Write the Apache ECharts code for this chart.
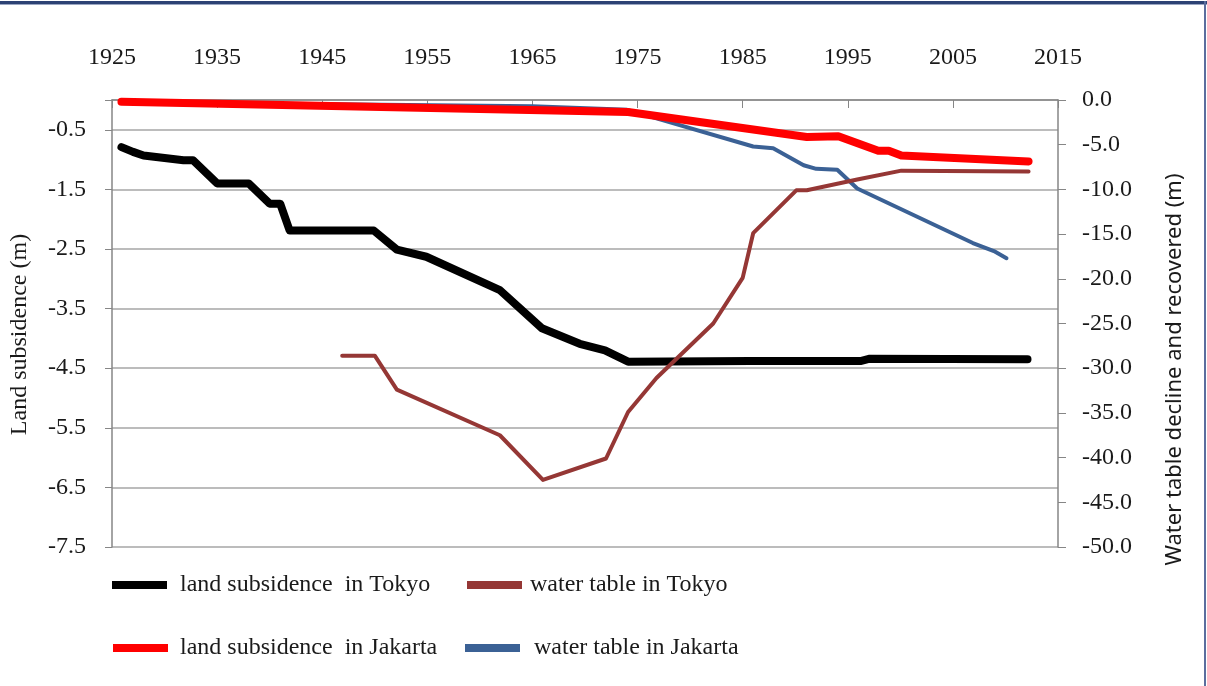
<!DOCTYPE html>
<html>
<head>
<meta charset="utf-8">
<script src="https://cdn.jsdelivr.net/npm/echarts@6/dist/echarts.min.js"></script>
<style>
html,body{margin:0;padding:0;background:#fff;}
#chart{width:1207px;height:686px;}
</style>
</head>
<body>
<div id="chart"></div>
<script>
// ---- data ----
var xTicks = [1925, 2015, 10];
var tokyoSubYears = [1925.9, 1927, 1928, 1931.8, 1932.7, 1935, 1938, 1940, 1941, 1941.9, 1949.9, 1952.1, 1954.9, 1961.9, 1965.9, 1969.5, 1971.9, 1974.1, 1985.7, 1996.2, 1997.1, 2012.1];
var tokyoSub      = [-0.79, -0.87, -0.93, -1.01, -1.01, -1.40, -1.40, -1.74, -1.74, -2.19, -2.19, -2.51, -2.63, -3.19, -3.83, -4.09, -4.20, -4.39, -4.38, -4.38, -4.34, -4.35];

var jakartaSubYears = [1925.9, 1974.1, 1991.1, 1994.1, 1997.9, 1998.9, 2000.1, 2012.2];
var jakartaSub      = [-0.03, -0.20, -0.62, -0.61, -0.85, -0.85, -0.93, -1.03];

var tokyoWaterYears = [1946.9, 1950, 1952.1, 1961.9, 1966, 1972, 1974.1, 1976.8, 1982.2, 1985, 1986, 1990.1, 1991.1, 1995.9, 2000.1, 2012.2];
var tokyoWater      = [-28.6, -28.6, -32.4, -37.5, -42.5, -40.1, -34.9, -31.1, -25.0, -19.9, -14.9, -10.1, -10.1, -8.9, -7.9, -8.0];

var jakartaWaterYears = [1927, 1965, 1974, 1976.8, 1986, 1987.9, 1990.8, 1992, 1994, 1995.9, 2006.9, 2008.9, 2010.1];
var jakartaWater      = [-0.25, -0.7, -1.1, -2.05, -5.2, -5.4, -7.3, -7.7, -7.8, -9.9, -16.0, -16.9, -17.7];

var names = ['land subsidence  in Tokyo', 'water table in Tokyo', 'land subsidence  in Jakarta', 'water table in Jakarta'];

function pairs(xs, ys) { return xs.map(function (x, i) { return [x, ys[i]]; }); }

var serif = '"Liberation Serif", "DejaVu Serif", serif';
var axisColor = '#868686';
var textColor = '#1a1a1a';

var chart = echarts.init(document.getElementById('chart'));
function legendItem(name, left, top, gap) {
  return {
    data: [name], left: left, top: top, orient: 'horizontal',
    icon: 'rect', itemWidth: 55, itemHeight: 8, selectedMode: false,
    textStyle: { fontFamily: serif, fontSize: 24, color: textColor, padding: [0, 0, 0, gap] }
  };
}
chart.setOption({
  animation: false,
  backgroundColor: '#fff',
  grid: { left: 112, right: 149, top: 100, bottom: 139, containLabel: false },
  legend: [
    legendItem(names[0], 107, 568, 8),
    legendItem(names[1], 462, 568, 3),
    legendItem(names[2], 108, 631, 7),
    legendItem(names[3], 460, 631, 9)
  ],
  xAxis: {
    type: 'value', position: 'top', min: xTicks[0], max: xTicks[1], interval: xTicks[2],
    axisLine: { show: true, lineStyle: { color: axisColor, width: 1.5 } },
    axisTick: { show: true, inside: true, length: 8, lineStyle: { color: axisColor } },
    axisLabel: { margin: 30, fontFamily: serif, fontSize: 24, color: textColor, formatter: function (v) { return String(v); } },
    splitLine: { show: false }
  },
  yAxis: [
    {
      type: 'value', position: 'left', min: -7.5, max: 0, interval: 1,
      name: 'Land subsidence (m)', nameLocation: 'middle', nameGap: 80, nameRotate: 90,
      nameTextStyle: { fontFamily: serif, fontSize: 24, color: textColor, padding: [0, 22, 0, 0] },
      axisLine: { show: true, lineStyle: { color: axisColor, width: 1.5 } },
      axisTick: { show: true, inside: false, length: 7, lineStyle: { color: axisColor } },
      axisLabel: { margin: 26, fontFamily: serif, fontSize: 24, color: textColor,
        formatter: function (v) { return Math.abs(v) < 1e-9 ? '' : v.toFixed(1); } },
      splitLine: { show: true, lineStyle: { color: '#a6a6a6', width: 1.5 } }
    },
    {
      type: 'value', position: 'right', min: -50, max: 0, interval: 5,
      name: 'Water table decline and recovered (m)', nameLocation: 'middle', nameGap: 106, nameRotate: 90,
      nameTextStyle: { fontFamily: '"Noto Sans", "DejaVu Sans", sans-serif', fontSize: 22, color: textColor, padding: [0, 92, 0, 0] },
      axisLine: { show: true, lineStyle: { color: axisColor, width: 1.5 } },
      axisTick: { show: true, inside: false, length: 8, lineStyle: { color: axisColor } },
      axisLabel: { margin: 24, fontFamily: serif, fontSize: 24, color: textColor,
        formatter: function (v) { return v.toFixed(1); } },
      splitLine: { show: false }
    }
  ],
  series: [
    { name: names[0], type: 'line', yAxisIndex: 0, data: pairs(tokyoSubYears, tokyoSub), showSymbol: false, symbol: 'none',
      color: '#000000', lineStyle: { color: '#000000', width: 8, cap: 'round', join: 'round' }, z: 2 },
    { name: names[3], type: 'line', yAxisIndex: 1, data: pairs(jakartaWaterYears, jakartaWater), showSymbol: false, symbol: 'none',
      color: '#3b6195', lineStyle: { color: '#3b6195', width: 4, cap: 'round', join: 'round' }, z: 3 },
    { name: names[1], type: 'line', yAxisIndex: 1, data: pairs(tokyoWaterYears, tokyoWater), showSymbol: false, symbol: 'none',
      color: '#953735', lineStyle: { color: '#953735', width: 4, cap: 'round', join: 'round' }, z: 4 },
    { name: names[2], type: 'line', yAxisIndex: 0, data: pairs(jakartaSubYears, jakartaSub), showSymbol: false, symbol: 'none',
      color: '#ff0000', lineStyle: { color: '#ff0000', width: 8, cap: 'round', join: 'round' }, z: 5 }
  ],
  graphic: [
    { type: 'rect', shape: { x: 0, y: 1, width: 1207, height: 3 }, style: { fill: '#2c4274' }, silent: true },
    { type: 'rect', shape: { x: 0, y: 4, width: 1207, height: 1 }, style: { fill: '#9aa6c2' }, silent: true },
    { type: 'rect', shape: { x: 1204, y: 1, width: 2, height: 685 }, style: { fill: '#5b6e9e' }, silent: true }
  ]
});
</script>
</body>
</html>
